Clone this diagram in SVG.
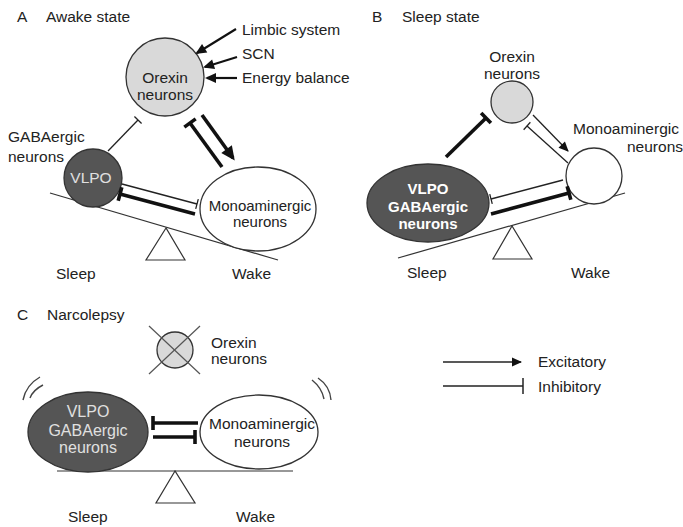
<svg xmlns="http://www.w3.org/2000/svg" width="683" height="527" viewBox="0 0 683 527">
<style>
text{font-family:"Liberation Sans",Arial,sans-serif;font-size:15.5px;fill:#222}
.c{text-anchor:middle}
.lt{fill:#e0e0e0}
.bw{fill:#fff;font-weight:bold;font-size:15px}
.node{stroke:#333;stroke-width:1.3}
.gray{fill:#d9d9d9}
.dark{fill:#555}
.white{fill:#fff}
.base{stroke:#333;stroke-width:1.2;fill:none}
.thin{stroke:#222;stroke-width:1.3;fill:none}
.thick{stroke:#111;stroke-width:3.6;fill:none}
.src{stroke:#111;stroke-width:2.2;fill:none}
</style>
<defs>
<marker id="barThin" markerUnits="userSpaceOnUse" orient="auto" overflow="visible" markerWidth="1" markerHeight="1"><path d="M0,-5V5" stroke="#222" stroke-width="1.3"/></marker>
<marker id="barLeg" markerUnits="userSpaceOnUse" orient="auto" overflow="visible" markerWidth="1" markerHeight="1"><path d="M0,-8V8" stroke="#222" stroke-width="1.5"/></marker>
<marker id="barThick" markerUnits="userSpaceOnUse" orient="auto" overflow="visible" markerWidth="1" markerHeight="1"><path d="M0,-7V7" stroke="#111" stroke-width="3.6"/></marker>
<marker id="arrThick" markerUnits="userSpaceOnUse" orient="auto" overflow="visible" markerWidth="1" markerHeight="1"><path d="M-11,-6.5L3,0L-11,6.5z" fill="#111"/></marker>
<marker id="arrSrc" markerUnits="userSpaceOnUse" orient="auto" overflow="visible" markerWidth="1" markerHeight="1"><path d="M-9,-5L2,0L-9,5z" fill="#111"/></marker>
<marker id="arrThin" markerUnits="userSpaceOnUse" orient="auto" overflow="visible" markerWidth="1" markerHeight="1"><path d="M-9,-4.5L1,0L-9,4.5z" fill="#111"/></marker>
</defs>

<!-- Panel A -->
<g id="panelA-title"><text x="17" y="22">A</text><text x="46" y="22">Awake state</text></g>
<g id="A-seesaw">
<line class="base" x1="50" y1="193" x2="278" y2="260"/>
<path class="base" d="M166,228L146,260H185Z"/>
<text x="56" y="279">Sleep</text><text x="232" y="279">Wake</text>
</g>
<g id="A-orexin"><circle class="node gray" cx="165" cy="77" r="39"/><text class="c" x="165" y="83">Orexin</text><text class="c" x="165" y="100">neurons</text></g>
<g id="A-vlpo"><circle class="node dark" cx="93" cy="178" r="29"/><text class="c lt" x="91" y="183">VLPO</text><text x="8" y="142">GABAergic</text><text x="8" y="162">neurons</text></g>
<g id="A-mono"><ellipse class="node white" cx="258" cy="209" rx="58" ry="42"/><text class="c" x="260" y="211" style="font-size:15px">Monoaminergic</text><text class="c" x="260" y="227" style="font-size:15px">neurons</text></g>
<g id="A-inputs"><text x="242" y="35">Limbic system</text><text x="242" y="59">SCN</text><text x="242" y="83">Energy balance</text></g>
<g id="A-connectors">
<line class="src" x1="236" y1="29" x2="197" y2="53" marker-end="url(#arrSrc)"/>
<line class="src" x1="237" y1="57" x2="205" y2="67" marker-end="url(#arrSrc)"/>
<line class="src" x1="237" y1="78" x2="207" y2="78" marker-end="url(#arrSrc)"/>
<line class="thin" x1="108" y1="151" x2="138" y2="120" marker-end="url(#barThin)"/>
<line class="thick" x1="222" y1="167" x2="190" y2="123" marker-end="url(#barThick)"/>
<line class="thick" x1="202" y1="115" x2="233" y2="158" marker-end="url(#arrThick)"/>
<line class="thin" x1="122" y1="184" x2="197" y2="204" marker-end="url(#barThin)"/>
<line class="thick" x1="195" y1="214" x2="120" y2="194" marker-end="url(#barThick)"/>
</g>

<!-- Panel B -->
<g id="panelB-title"><text x="372" y="22">B</text><text x="402" y="22">Sleep state</text></g>
<g id="B-seesaw">
<line class="base" x1="398" y1="258" x2="625" y2="193"/>
<path class="base" d="M512,226L493,259H532Z"/>
<text x="407" y="278">Sleep</text><text x="571" y="278">Wake</text>
</g>
<g id="B-orexin"><circle class="node gray" cx="512" cy="102" r="21"/><text class="c" x="512" y="62">Orexin</text><text class="c" x="512" y="79">neurons</text></g>
<g id="B-mono"><circle class="node white" cx="594" cy="176" r="28"/><text x="573" y="134">Monoaminergic</text><text x="683" y="152" text-anchor="end">neurons</text></g>
<g id="B-vlpo"><ellipse class="node dark" cx="428" cy="203" rx="61" ry="39"/><text class="c bw" x="428" y="194">VLPO</text><text class="c bw" x="428" y="212">GABAergic</text><text class="c bw" x="428" y="229">neurons</text></g>
<g id="B-connectors">
<line class="thick" x1="446" y1="157" x2="486" y2="118" marker-end="url(#barThick)"/>
<line class="thin" x1="568" y1="163" x2="527" y2="126" marker-end="url(#barThin)"/>
<line class="thin" x1="533" y1="115" x2="568" y2="151" marker-end="url(#arrThin)"/>
<line class="thin" x1="563" y1="180" x2="491" y2="199" marker-end="url(#barThin)"/>
<line class="thick" x1="491" y1="214" x2="569" y2="193" marker-end="url(#barThick)"/>
</g>

<!-- Panel C -->
<g id="panelC-title"><text x="17" y="320">C</text><text x="47" y="320">Narcolepsy</text></g>
<g id="C-seesaw">
<line class="base" x1="57" y1="471" x2="293" y2="471"/>
<path class="base" d="M175,471L156,503H195Z"/>
<text x="68" y="522">Sleep</text><text x="236" y="522">Wake</text>
</g>
<g id="C-orexin"><circle class="node gray" cx="175" cy="350" r="18"/>
<line stroke="#555" stroke-width="1.2" x1="149" y1="326" x2="200" y2="374"/><line stroke="#555" stroke-width="1.2" x1="200" y1="326" x2="149" y2="374"/>
<text x="211" y="348">Orexin</text><text x="211" y="364">neurons</text></g>
<g id="C-vlpo"><ellipse class="node dark" cx="88" cy="432" rx="60" ry="40"/><text class="c lt" x="88" y="417" style="font-size:16px">VLPO</text><text class="c lt" x="88" y="436" style="font-size:16px">GABAergic</text><text class="c lt" x="88" y="453" style="font-size:16px">neurons</text></g>
<g id="C-mono"><ellipse class="node white" cx="259" cy="432" rx="59" ry="37"/><text class="c" x="262" y="429">Monoaminergic</text><text class="c" x="262" y="447">neurons</text></g>
<g id="C-shake" fill="none" stroke="#444" stroke-width="1.4">
<path d="M23,400Q26,385 40,377"/><path d="M30,398Q33,390 43,385"/>
<path d="M312,380Q322,388 324,399"/><path d="M318,378Q330,386 331,400"/>
</g>
<g id="C-connectors">
<line class="thick" x1="198" y1="423" x2="153" y2="423" marker-end="url(#barThick)"/>
<line class="thick" x1="153" y1="437" x2="195" y2="437" marker-end="url(#barThick)"/>
</g>

<!-- Legend -->
<g id="legend">
<line class="thin" x1="443" y1="362" x2="521" y2="362" marker-end="url(#arrThin)"/>
<text x="538" y="367">Excitatory</text>
<line class="thin" x1="443" y1="386" x2="523" y2="386" marker-end="url(#barLeg)"/>
<text x="538" y="392">Inhibitory</text>
</g>
</svg>
